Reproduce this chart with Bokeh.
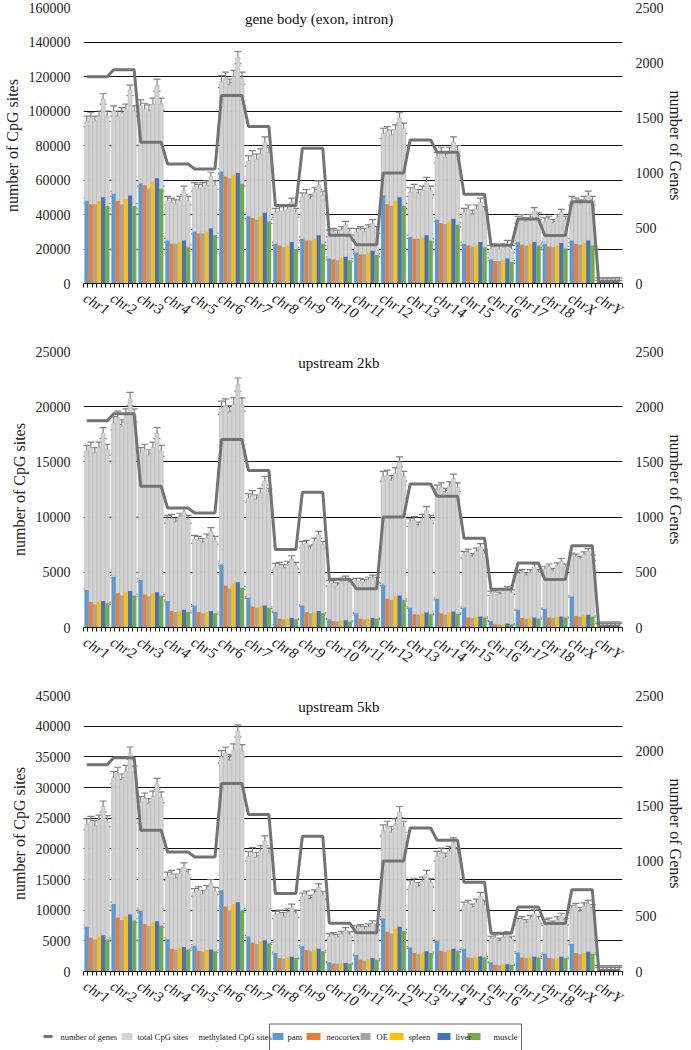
import math
import pandas as pd
from bokeh.plotting import figure
from bokeh.models import (ColumnDataSource, Range1d, LinearAxis, FixedTicker, Whisker, TeeHead, Label,
                          BasicTickFormatter)
from bokeh.layouts import column, row
from bokeh.embed import file_html
from bokeh.resources import INLINE
from bokeh.core.properties import value

chromosomes = ["chr1", "chr2", "chr3", "chr4", "chr5", "chr6", "chr7", "chr8", "chr9", "chr10",
               "chr11", "chr12", "chr13", "chr14", "chr15", "chr16", "chr17", "chr18", "chrX", "chrY"]
samples = ["pam", "neocortex", "OE", "spleen", "liver", "muscle"]
sample_colors = ["#5B9BD5", "#ED7D31", "#A5A5A5", "#FFC000", "#4472C4", "#70AD47"]

# number of genes per chromosome (secondary axis)
genes = [1873, 1937, 1280, 1082, 1038, 1702, 1422, 706, 1225, 437,
         352, 1001, 1300, 1189, 808, 347, 584, 435, 740, 8]

# ---- gene body (exon, intron) ----
gb_total = [
    [94000, 96000, 94000, 97000, 107000, 97000],
    [100000, 97000, 99000, 101000, 112000, 100000],
    [103000, 101000, 100000, 104000, 115000, 104000],
    [48000, 47000, 46000, 48000, 54000, 48000],
    [56000, 55000, 56000, 57000, 62000, 57000],
    [117000, 119000, 115000, 120000, 131000, 119000],
    [71000, 74000, 72000, 75000, 82000, 76000],
    [41000, 42000, 42000, 43000, 47000, 41000],
    [50000, 52000, 49000, 53000, 57000, 51000],
    [29000, 30000, 29000, 31000, 34000, 30000],
    [30000, 31000, 30000, 32000, 35000, 31000],
    [87000, 88000, 86000, 89000, 96000, 90000],
    [53000, 55000, 52000, 54000, 59000, 54000],
    [73000, 76000, 73000, 76000, 82000, 77000],
    [41000, 43000, 40000, 43000, 47000, 42000],
    [20000, 21000, 20000, 21000, 23000, 20000],
    [37000, 38000, 36000, 38000, 42000, 39000],
    [36000, 37000, 35000, 38000, 41000, 37000],
    [48000, 47000, 46000, 48000, 51000, 48000],
    [800, 800, 800, 800, 900, 800],
]
gb_total_err = [3000, 3000, 3500, 2500, 2500, 3500, 3000, 2500, 2500, 2000,
                2000, 3000, 2500, 3000, 2500, 2000, 2000, 2000, 2500, 2500]
gb_meth = [
    [48000, 46000, 46000, 48000, 50000, 45000],
    [52000, 48000, 46000, 49000, 51000, 45000],
    [58000, 57000, 55000, 59000, 61000, 55000],
    [25000, 23000, 23000, 24000, 25000, 21000],
    [30000, 29000, 29000, 30000, 32000, 28000],
    [65000, 62000, 61000, 63000, 64000, 58000],
    [39000, 38000, 37000, 39000, 41000, 36000],
    [23000, 22000, 21000, 22000, 24000, 20000],
    [26000, 25000, 25000, 26000, 28000, 23000],
    [14500, 14000, 13500, 14500, 15500, 13500],
    [18000, 17000, 17000, 18000, 19000, 16500],
    [51000, 46000, 45000, 48000, 50000, 45000],
    [27000, 26000, 26000, 26500, 28000, 25000],
    [37000, 35000, 34500, 36000, 37500, 34000],
    [23000, 22000, 21500, 22000, 24000, 21000],
    [14000, 13000, 13000, 13500, 14500, 12500],
    [24000, 22500, 22000, 23000, 24000, 22000],
    [23000, 21500, 21000, 22000, 23500, 20500],
    [25000, 23000, 22500, 23500, 25000, 22000],
    [300, 300, 300, 300, 300, 300],
]
gb_meth_err = [1500, 1500, 1500, 1200, 1200, 1500, 1200, 1000, 1000, 800,
               800, 1500, 1000, 1200, 1000, 800, 1000, 1000, 1000, 1500]

# ---- upstream 2kb ----
up2_total = [
    [16000, 16300, 15800, 16300, 17600, 16100],
    [18500, 19000, 18200, 19200, 20700, 19200],
    [15800, 16100, 15600, 16300, 17600, 16000],
    [9800, 9900, 9500, 10000, 10500, 9800],
    [8000, 7900, 7700, 8100, 8700, 7900],
    [19900, 20100, 19500, 20200, 22000, 20200],
    [11700, 12000, 11600, 12200, 13300, 12200],
    [5500, 5600, 5400, 5700, 6200, 5600],
    [7500, 7600, 7100, 7800, 8400, 7500],
    [4000, 4000, 3800, 4200, 4400, 4100],
    [4200, 4200, 4100, 4300, 4500, 4300],
    [13700, 13800, 13300, 14000, 15000, 13700],
    [9500, 9700, 9200, 9900, 10600, 9800],
    [12500, 12700, 12200, 12800, 13500, 12700],
    [6600, 6800, 6400, 6900, 7300, 6700],
    [3100, 3200, 3000, 3300, 3500, 3200],
    [4900, 5000, 4700, 5000, 5500, 5000],
    [5300, 5500, 5100, 5600, 6000, 5500],
    [6500, 6400, 6200, 6600, 6900, 6300],
    [100, 100, 100, 100, 120, 100],
]
up2_total_err = [500, 600, 500, 350, 350, 600, 400, 300, 300, 250,
                 250, 450, 350, 400, 300, 200, 250, 250, 250, 400]
up2_meth = [
    [3400, 2300, 2100, 2300, 2400, 2200],
    [4600, 3100, 2900, 3200, 3300, 2900],
    [4300, 3000, 2800, 3100, 3200, 2900],
    [2400, 1500, 1400, 1500, 1600, 1400],
    [2000, 1400, 1300, 1400, 1500, 1300],
    [5700, 3800, 3500, 4000, 4100, 3600],
    [2700, 1900, 1800, 1900, 2000, 1800],
    [1400, 800, 750, 800, 850, 750],
    [2000, 1400, 1300, 1400, 1500, 1300],
    [750, 600, 550, 600, 650, 550],
    [1300, 800, 750, 800, 850, 800],
    [3900, 2600, 2500, 2800, 2900, 2500],
    [1800, 1200, 1150, 1250, 1350, 1200],
    [2600, 1300, 1150, 1350, 1450, 1250],
    [1800, 900, 850, 950, 1000, 900],
    [600, 300, 280, 320, 360, 300],
    [1600, 850, 800, 850, 900, 800],
    [1700, 900, 850, 950, 1000, 900],
    [2800, 1050, 1000, 1100, 1150, 1000],
    [50, 50, 50, 50, 50, 50],
]
up2_meth_err = [100, 120, 100, 80, 80, 120, 80, 60, 60, 50,
                50, 100, 60, 70, 60, 40, 50, 50, 60, 300]

# ---- upstream 5kb ----
up5_total = [
    [24000, 24400, 23700, 24600, 26900, 24500],
    [31600, 32300, 31200, 32600, 35600, 32500],
    [27600, 28200, 27300, 28500, 30600, 28400],
    [15500, 15800, 15200, 16000, 17000, 15900],
    [12900, 13200, 12600, 13400, 14400, 13100],
    [35000, 35600, 34400, 36100, 39200, 36000],
    [18800, 19400, 18600, 19700, 21300, 19300],
    [9200, 9400, 9000, 9600, 10400, 9400],
    [12200, 12500, 11800, 12700, 13700, 12400],
    [5700, 5900, 5600, 6100, 6700, 6000],
    [7000, 7200, 6900, 7300, 7800, 7200],
    [23000, 23600, 22700, 24000, 26000, 23600],
    [14100, 14500, 13800, 14700, 15800, 14500],
    [18800, 19300, 18500, 19600, 21000, 19200],
    [10700, 11000, 10400, 11200, 12300, 10900],
    [5300, 5500, 5000, 5600, 6000, 5300],
    [8100, 8400, 7900, 8600, 9500, 8400],
    [8000, 8200, 7700, 8400, 9000, 8100],
    [10200, 10500, 9800, 10600, 11000, 10300],
    [150, 150, 150, 150, 180, 150],
]
up5_total_err = [900, 1000, 900, 700, 600, 1000, 800, 600, 600, 450,
                 450, 900, 700, 800, 600, 450, 550, 500, 600, 800]
up5_meth = [
    [7300, 5500, 5200, 5700, 5900, 5200],
    [11000, 8800, 8400, 9000, 9300, 8300],
    [9900, 7700, 7400, 8000, 8200, 7500],
    [5300, 3700, 3500, 3900, 4000, 3600],
    [4200, 3400, 3200, 3500, 3600, 3300],
    [13300, 10600, 10000, 11000, 11300, 10000],
    [5700, 4700, 4500, 4900, 5100, 4600],
    [3000, 2200, 2100, 2300, 2400, 2200],
    [4100, 3500, 3300, 3500, 3700, 3300],
    [1500, 1300, 1250, 1300, 1400, 1250],
    [2700, 1900, 1800, 2000, 2200, 1900],
    [8700, 6500, 6200, 7000, 7300, 6600],
    [3900, 3000, 2800, 3100, 3300, 3000],
    [5000, 3400, 3200, 3500, 3700, 3400],
    [3700, 2300, 2200, 2400, 2500, 2300],
    [1500, 1100, 1000, 1100, 1200, 1100],
    [3100, 2300, 2200, 2300, 2400, 2300],
    [2900, 2200, 2100, 2200, 2400, 2200],
    [4500, 3000, 2800, 3000, 3200, 2900],
    [80, 80, 80, 80, 80, 80],
]
up5_meth_err = [250, 300, 300, 200, 200, 300, 200, 150, 150, 100,
                150, 250, 150, 200, 150, 100, 150, 150, 150, 600]

legend_labels = ["number of genes", "total CpG sites", "methylated CpG sites"]

FONT = "Liberation Serif"
TOTAL_FILL = "#D3D3D3"
GENE_LINE = "#737373"
ERR_COLOR = "#7F7F7F"
W = 0.152    # bar width in group units
OFF = 0.45   # chromosome label anchor sits this far left of the group centre
NCHR = len(chromosomes)
FIG_W = 691


def make_panel(title, total, total_err, meth, meth_err, ymax, ystep,
               height, top, bottom, title_pos):
    rows = []
    for g, chrom in enumerate(chromosomes):
        for s, samp in enumerate(samples):
            t = total[g][s]
            m = meth[g][s]
            rows.append(dict(x=g + OFF + (s - 2.5) * W, total=t, meth=m,
                             t_lo=t - total_err[g], t_hi=t + total_err[g],
                             m_lo=m - meth_err[g], m_hi=m + meth_err[g],
                             color=sample_colors[s], genes=genes[g]))
    src = ColumnDataSource(pd.DataFrame(rows))

    p = figure(width=FIG_W, height=height, x_range=Range1d(OFF - 0.5, OFF + NCHR - 0.5),
               y_range=Range1d(0, ymax), output_backend="svg",
               toolbar_location=None, min_border_left=82, min_border_right=69,
               min_border_top=top, min_border_bottom=bottom,
               outline_line_color=None, background_fill_color="white")
    p.extra_y_ranges = {"genes": Range1d(0, 2500)}

    # total CpG bars
    p.vbar(x="x", top="total", width=W, bottom=0, source=src,
           fill_color=TOTAL_FILL, line_color="#B5B5B5", line_width=0.6)
    p.add_layout(Whisker(base="x", lower="t_lo", upper="t_hi", source=src,
                         line_color=ERR_COLOR, line_width=1.2,
                         upper_head=TeeHead(size=7, line_color=ERR_COLOR, line_width=1.2),
                         lower_head=TeeHead(size=7, line_color=ERR_COLOR, line_width=1.2)))
    # methylated CpG bars
    p.vbar(x="x", top="meth", width=W, bottom=0, source=src,
           fill_color="color", line_color=None)
    p.add_layout(Whisker(base="x", lower="m_lo", upper="m_hi", source=src,
                         line_color=ERR_COLOR, line_width=1.2,
                         upper_head=TeeHead(size=7, line_color=ERR_COLOR, line_width=1.2),
                         lower_head=TeeHead(size=7, line_color=ERR_COLOR, line_width=1.2)))
    # number of genes line
    p.line(x="x", y="genes", source=src, y_range_name="genes",
           line_color=GENE_LINE, line_width=3)

    # axes
    yticks = list(range(0, ymax + 1, ystep))
    ax = p.yaxis[0]
    ax.ticker = FixedTicker(ticks=yticks)
    ax.formatter = BasicTickFormatter(use_scientific=False)
    ax.axis_label = "number of CpG sites"
    p.ygrid.ticker = FixedTicker(ticks=yticks)
    p.ygrid.grid_line_color = "#111111"
    p.ygrid.grid_line_width = 1
    p.xgrid.grid_line_color = None

    right = LinearAxis(y_range_name="genes", ticker=FixedTicker(ticks=[0, 500, 1000, 1500, 2000, 2500]),
                       axis_label="number of Genes")
    p.add_layout(right, "right")

    for a in (ax, right):
        a.axis_line_color = None
        a.major_tick_line_color = None
        a.minor_tick_line_color = None
        a.major_tick_out = 0
        a.major_tick_in = 0
        a.minor_tick_out = 0
        a.minor_tick_in = 0
        a.major_label_text_font = FONT
        a.major_label_text_font_size = "14px"
        a.major_label_text_color = "#222222"
        a.axis_label_text_font = FONT
        a.axis_label_text_font_size = "16px"
        a.axis_label_text_font_style = "normal"
        a.axis_label_text_color = "#222222"
    ax.major_label_standoff = 13
    ax.axis_label_standoff = 5
    right.major_label_standoff = 13
    right.axis_label_standoff = 0
    right.axis_label_orientation = "vertical"

    xa = p.xaxis[0]
    minor = [g + OFF - 0.5 + k / 6 for g in range(NCHR) for k in range(6)] + [NCHR + OFF - 0.5]
    xa.ticker = FixedTicker(ticks=list(range(NCHR)), minor_ticks=minor)
    xa.major_label_overrides = {g: c for g, c in enumerate(chromosomes)}
    xa.major_label_orientation = -0.55
    xa.major_tick_line_color = None
    xa.major_tick_out = 0
    xa.major_tick_in = 0
    xa.minor_tick_out = 4
    xa.minor_tick_in = 0
    xa.minor_tick_line_color = "#111111"
    xa.axis_line_color = "#111111"
    xa.major_label_text_font = FONT
    xa.major_label_text_font_size = "15px"
    xa.major_label_text_font_style = "italic"
    xa.major_label_text_color = "#222222"
    xa.major_label_standoff = 9

    p.add_layout(Label(x=title_pos[0] + OFF, y=title_pos[1], text=title,
                       text_font=FONT, text_font_size="15px", text_align="center",
                       text_baseline="middle", text_color="#111111"))
    return p


p1 = make_panel("gene body (exon, intron)", gb_total, gb_total_err, gb_meth, gb_meth_err,
                160000, 20000, 343, 7, 60, (8.24, 153500))
p2 = make_panel("upstream 2kb", up2_total, up2_total_err, up2_meth, up2_meth_err,
                25000, 5000, 342, 8, 58, (8.98, 24000))
p3 = make_panel("upstream 5kb", up5_total, up5_total_err, up5_meth, up5_meth_err,
                45000, 5000, 334, 10, 46, (8.98, 43200))

# legend strip (x data units = page pixels)
LEG_H = 31
leg = figure(width=FIG_W, height=LEG_H, x_range=Range1d(0, FIG_W), y_range=Range1d(0, LEG_H),
             output_backend="svg", toolbar_location=None, min_border=0,
             x_axis_type=None, y_axis_type=None, outline_line_color=None)
leg.grid.visible = False
ly = 14
FS = "8.5px"
leg.line(x=[43, 52], y=[ly, ly], line_color=GENE_LINE, line_width=3)
leg.rect(x=[126.5], y=[ly], width=11, height=7, fill_color=TOTAL_FILL, line_color=None)
leg.text(x=[60, 137, 198], y=[ly] * 3, text=legend_labels, text_font=value(FONT),
         text_font_size=FS, text_baseline="middle", text_color="#222222")
leg.line(x=[269, 269, 521, 521], y=[0, 26.5, 26.5, 0], line_color="#666666", line_width=1)
sw_x = [272, 306, 360, 389, 437, 467]
sw_w = [11, 14, 10, 14, 13, 13]
tx_x = [287, 326, 376, 408, 455, 493]
leg.rect(x=[a + b / 2 for a, b in zip(sw_x, sw_w)], y=[ly] * 6, width=sw_w, height=7,
         fill_color=sample_colors, line_color=None)
leg.text(x=tx_x, y=[ly] * 6, text=samples, text_font=value(FONT), text_font_size=FS,
         text_baseline="middle", text_color="#222222")

layout = column(p1, p2, p3, row(leg))
open("out.html", "w").write(file_html(layout, INLINE))
